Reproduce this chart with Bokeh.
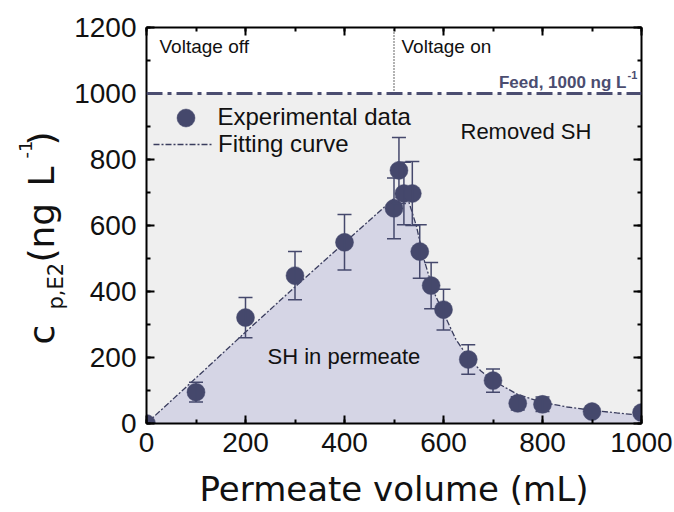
from bokeh.plotting import figure
from bokeh.layouts import row
from bokeh.models import (Range1d, LinearAxis, SingleIntervalTicker, CustomJSTickFormatter,
                          BoxAnnotation, Span, Label, Whisker, TeeHead, ColumnDataSource,
                          Legend, LegendItem)
from bokeh.embed import file_html
from bokeh.resources import INLINE

# Measured permeate concentration of E2 versus permeate volume
volume = [0, 100, 200, 300, 400, 500, 510, 520, 537, 552, 575, 600, 650, 700, 750, 800, 900, 1000]
conc = [0, 95, 321, 448, 549, 652, 767, 697, 697, 521, 418, 345, 194, 130, 61, 58, 36, 33]
conc_err = [0, 30, 61, 73, 84, 92, 100, 95, 97, 81, 70, 62, 45, 35, 20, 22, 8, 6]

# Fitted breakthrough / removal curve
fit_volume = [0, 100, 200, 300, 400, 500, 525, 545, 560, 580, 600, 625, 650, 675, 700, 750, 800, 850, 900, 950, 1000]
fit_conc = [0, 138, 277, 414, 548, 682, 695, 600, 500, 400, 335, 255, 200, 160, 130, 88, 64, 50, 40, 32, 25]

FEED = 1000          # feed concentration, ng/L
VOLTAGE_SWITCH = 500 # volume at which the voltage is switched on, mL
X_MAX = 1000
Y_MAX = 1200
x_ticks_step = 200
y_ticks_step = 200

DARK = "#45486c"
FONT = "Liberation Sans"
TITLE_FONT = "DejaVu Sans"
INK = "#111111"
H = 512
TITLE_W = 68   # strip holding the rotated y-axis title
TOP, BOTTOM = 27, 89

p = figure(width=674 - TITLE_W, height=H, output_backend="svg", toolbar_location=None,
           x_range=Range1d(0, X_MAX), y_range=Range1d(0, Y_MAX),
           x_axis_location=None, y_axis_location=None,
           min_border_left=146 - TITLE_W, min_border_right=33, min_border_top=TOP,
           min_border_bottom=BOTTOM)
p.xgrid.visible = False
p.ygrid.visible = False
p.outline_line_color = None
p.background_fill_color = "white"


def style_axis(ax, step, show_labels, standoff=7):
    ax.ticker = SingleIntervalTicker(interval=step, num_minor_ticks=2)
    ax.axis_line_width = 2
    ax.axis_line_color = "black"
    ax.major_tick_in = 8
    ax.major_tick_out = 0
    ax.minor_tick_in = 4
    ax.minor_tick_out = 0
    ax.major_tick_line_width = 2
    ax.minor_tick_line_width = 2
    ax.major_label_text_font = FONT
    ax.major_label_text_font_size = "28px"
    ax.major_label_text_color = INK
    ax.major_label_standoff = standoff
    if not show_labels:
        ax.formatter = CustomJSTickFormatter(code="return ''")
        ax.major_label_text_font_size = "1px"


bottom = LinearAxis(axis_label="Permeate volume (mL)")
style_axis(bottom, x_ticks_step, True, standoff=9)
bottom.axis_label_text_font = TITLE_FONT
bottom.axis_label_text_font_size = "34px"
bottom.axis_label_text_font_style = "normal"
bottom.axis_label_text_color = INK
bottom.axis_label_standoff = 14
left = LinearAxis()
style_axis(left, y_ticks_step, True, standoff=10)
top = LinearAxis()
style_axis(top, x_ticks_step, False)
right = LinearAxis()
style_axis(right, y_ticks_step, False)
p.add_layout(bottom, "below")
p.add_layout(left, "left")
p.add_layout(top, "above")
p.add_layout(right, "right")

# Background regions: grey up to the feed level, lavender under the fit curve
p.add_layout(BoxAnnotation(bottom=0, top=FEED, fill_color="#efefef", fill_alpha=1,
                           line_alpha=0, level="underlay"))
p.varea(x=fit_volume, y1=0, y2=fit_conc, fill_color="#d5d5e5", fill_alpha=1)

# Voltage switch marker above the feed line
p.segment(x0=[VOLTAGE_SWITCH], y0=[FEED], x1=[VOLTAGE_SWITCH], y1=[Y_MAX],
          line_color="black", line_width=1.2, line_dash="1 2")

# Fit curve
fit_line = p.line(fit_volume, fit_conc, line_color="#3a3d5e", line_width=1.3, line_dash="6 2 2 2")

# Error bars and data points
src = ColumnDataSource(dict(
    x=volume, y=conc,
    upper=[c + e for c, e in zip(conc, conc_err)],
    lower=[c - e for c, e in zip(conc, conc_err)],
))
p.add_layout(Whisker(source=src, base="x", upper="upper", lower="lower",
                     line_color=DARK, line_width=1.5, level="glyph",
                     upper_head=TeeHead(size=14, line_color=DARK, line_width=1.5),
                     lower_head=TeeHead(size=14, line_color=DARK, line_width=1.5)))
pts = p.scatter("x", "y", source=src, size=18, fill_color=DARK, line_color=DARK, line_width=0.5)

# Feed level
p.add_layout(Span(location=FEED, dimension="width", line_color="#4b4d70",
                  line_width=3, line_dash="16 5 4 5"))


def text(fig, t, x, y, size, angle=0.0, align="left", style="normal", color=INK,
         units="screen", font=FONT):
    fig.add_layout(Label(text=t, x=x, y=y, x_units=units, y_units=units,
                         text_font=font, text_font_size=f"{size}px", text_font_style=style,
                         text_color=color, angle=angle, text_align=align,
                         text_baseline="alphabetic"))


text(p, "Voltage off", 13, 377, 19)
text(p, "Voltage on", 255, 377, 19)
text(p, f"Feed, {FEED} ng L", 480, 341, 17, align="right", style="bold", color="#4b4d70")
text(p, "-1", 481, 349, 11, style="bold", color="#4b4d70")
text(p, "Removed SH", 314, 292, 22)
text(p, "SH in permeate", 121, 67, 22)

# Legend (two single-item legends so each key keeps its own size)
leg1 = Legend(items=[LegendItem(label="Experimental data", renderers=[pts])],
              location=(16.5, 283.5), glyph_width=45, glyph_height=45, label_standoff=10,
              padding=0, margin=0, border_line_alpha=0, background_fill_alpha=0,
              label_text_font=FONT, label_text_font_size="24px", label_text_color=INK)
leg2 = Legend(items=[LegendItem(label="Fitting curve", renderers=[fit_line])],
              location=(7, 265), glyph_width=59, glyph_height=20, label_standoff=6,
              padding=0, margin=0, border_line_alpha=0, background_fill_alpha=0,
              label_text_font=FONT, label_text_font_size="24px", label_text_color=INK)
p.add_layout(leg1)
p.add_layout(leg2)

# Rotated y-axis title with subscript and superscript, set in its own strip.
# The strip's frame lines up with the main plot frame, so its y range is in
# page pixels measured from the bottom of the page.
side = figure(width=TITLE_W, height=H, output_backend="svg", toolbar_location=None,
              x_range=Range1d(0, TITLE_W), y_range=Range1d(BOTTOM, H - TOP),
              x_axis_location=None, y_axis_location=None,
              min_border_left=0, min_border_right=0, min_border_top=0, min_border_bottom=0)
side.xgrid.visible = False
side.ygrid.visible = False
side.outline_line_color = None
ROT = 1.5707963
text(side, "c", 41, 168, 36, angle=ROT, units="data", font=TITLE_FONT)
text(side, "p,E2", 55, 203, 21, angle=ROT, units="data", font=TITLE_FONT)
text(side, "(ng", 41, 250, 36, angle=ROT, units="data", font=TITLE_FONT)
text(side, "L", 41, 326, 36, angle=ROT, units="data", font=TITLE_FONT)
text(side, "-1", 25, 354, 18, angle=ROT, units="data", font=TITLE_FONT)
text(side, ")", 41, 367, 36, angle=ROT, units="data", font=TITLE_FONT)

layout = row(side, p)
open("out.html", "w").write(file_html(layout, INLINE))
